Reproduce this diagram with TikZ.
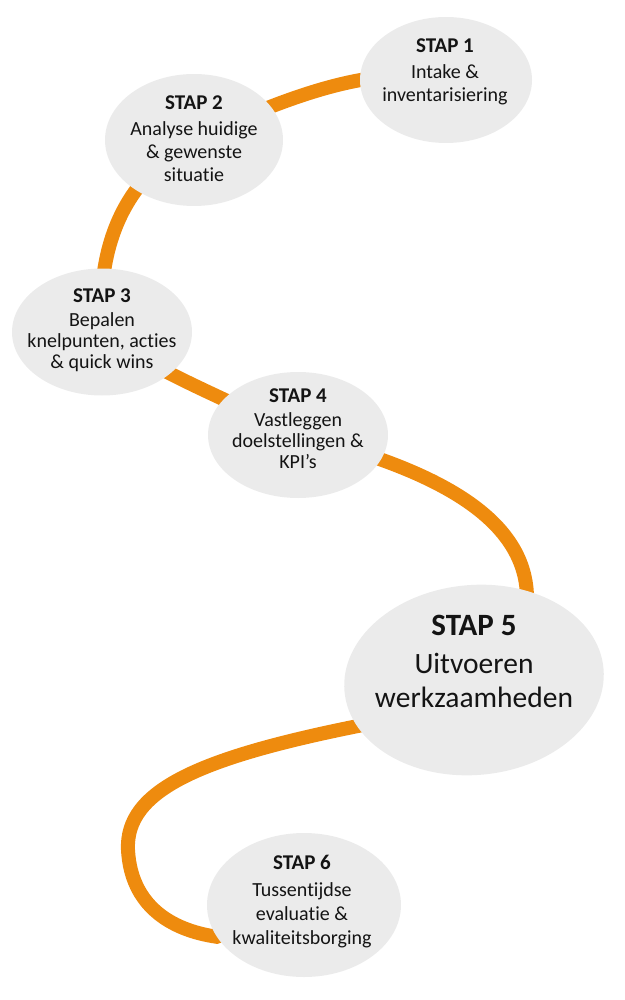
\documentclass[tikz,border=0pt]{standalone}
\usepackage{fontspec}
\setmainfont[Ligatures={NoCommon}]{Carlito}
\usetikzlibrary{shapes.geometric,backgrounds}
\definecolor{bubble}{HTML}{EBEBEB}
\definecolor{road}{HTML}{EE8B0E}
\definecolor{ink}{HTML}{141414}
\newcommand{\stap}[1]{{\fontsize{21}{23}\selectfont\textbf{#1}}}
\tikzset{
  bubble/.style={ellipse, fill=bubble, draw=none, inner sep=0pt},
  roadline/.style={draw=road, line width=14pt},
  steptext/.style={align=center, text=ink, inner sep=0pt, font=\fontsize{20}{23}\selectfont},
  bigtext/.style={align=center, text=ink, inner sep=0pt, font=\fontsize{29.5}{34}\selectfont},
}
\begin{document}
\begin{tikzpicture}[x=1pt,y=-1pt]
\useasboundingbox (0,0) rectangle (624,1000);
% bubbles
\node[bubble, minimum width=172pt, minimum height=126pt] (s1) at (446,80) {};
\node[bubble, minimum width=178pt, minimum height=132pt] (s2) at (194,140) {};
\node[bubble, minimum width=180pt, minimum height=127pt] (s3) at (102,332) {};
\node[bubble, minimum width=180pt, minimum height=126pt] (s4) at (298,435) {};
\node[bubble, minimum width=260pt, minimum height=190pt, rotate=5] (s5) at (474,680) {};
\node[bubble, minimum width=194pt, minimum height=144pt] (s6) at (304,905) {};
% texts
\node[steptext] (t1) at (445,72) {\stap{STAP 1}\\[3pt]Intake \&\\inventarisiering};
\node[steptext] (t2) at (194,138.5) {\stap{STAP 2}\\[3pt]Analyse huidige\\\& gewenste\\situatie};
\node[steptext, font=\fontsize{20}{21}\selectfont] (t3) at (102,330) {\stap{STAP 3}\\[3pt]Bepalen\\knelpunten, acties\\\& quick wins};
\node[steptext, font=\fontsize{20}{21}\selectfont] (t4) at (298,428.5) {\stap{STAP 4}\\[3pt]Vastleggen\\doelstellingen \&\\KPI’s};
\node[bigtext] (t5) at (474,661.5) {{\fontsize{31}{34}\selectfont\textbf{STAP 5}}\\[4pt]Uitvoeren\\werkzaamheden};
\node[steptext, font=\fontsize{20}{24}\selectfont] (t6) at (302,901.5) {\stap{STAP 6}\\[3pt]Tussentijdse\\evaluatie \&\\kwaliteitsborging};
% road
\begin{scope}[on background layer]
\draw[roadline] (s1.center) .. controls (380,65) and (300,90) .. (s2.center);
\draw[roadline] (s2.center) .. controls (140,170) and (95,225) .. (s3.center);
\draw[roadline] (s3.center) .. controls (150,370) and (230,400) .. (s4.center);
\draw[roadline] (s4.center) .. controls (440,470) and (528,520) .. (527,600) -- (s5.center);
\draw[roadline] (s5.center) -- (368,724) .. controls (200,757) and (125,790) .. (128,850)
  .. controls (131,905) and (170,930) .. (s6.200) -- (s6.center);
\end{scope}
\end{tikzpicture}
\end{document}
